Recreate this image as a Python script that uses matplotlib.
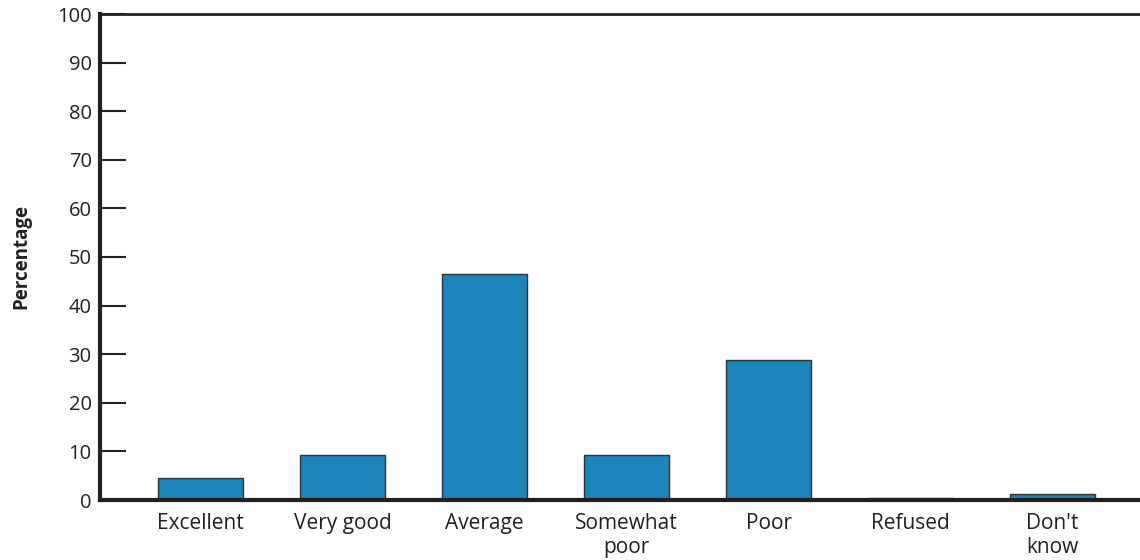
import matplotlib.pyplot as plt
import numpy as np

plt.rcParams['font.family'] = ['Open Sans', 'DejaVu Sans']

categories = ['Excellent', 'Very good', 'Average', 'Somewhat\npoor', 'Poor', 'Refused', "Don't\nknow"]
percentages = [4.5, 9.2, 46.4, 9.2, 28.9, 0.5, 1.2]
y_ticks = [0, 10, 20, 30, 40, 50, 60, 70, 80, 90, 100]

fig = plt.figure(figsize=(11.4, 5.6), dpi=100)
ax = fig.add_axes([100 / 1140, 60 / 560, 1 - 100 / 1140, 486 / 560])

x = np.arange(len(categories))
ax.bar(x, percentages, width=0.6, color='#1c86bb', edgecolor='#333333', linewidth=1.0, zorder=2)

ax.set_xlim(-0.708, 6.616)
ax.set_ylim(0, 100)
ax.set_yticks(y_ticks)
ax.set_xticks(x)
ax.set_xticklabels(categories, fontsize=15, color='#231f20', linespacing=1.2)
ax.tick_params(axis='x', length=0, pad=9.5)
ax.tick_params(axis='y', direction='in', length=18.5, width=1.5, color='#231f20',
               labelsize=14.5, labelcolor='#231f20', pad=6)

ax.spines['right'].set_visible(False)
ax.spines['left'].set_linewidth(3)
ax.spines['bottom'].set_linewidth(3)
ax.spines['top'].set_linewidth(2)
for side in ['left', 'bottom', 'top']:
    ax.spines[side].set_color('#231f20')

fig.text(21 / 1140, 1 - 257 / 560, 'Percentage', rotation=90, fontsize=13.5, fontweight='bold',
         color='#231f20', ha='center', va='center')

fig.savefig('out.png', dpi=100)
